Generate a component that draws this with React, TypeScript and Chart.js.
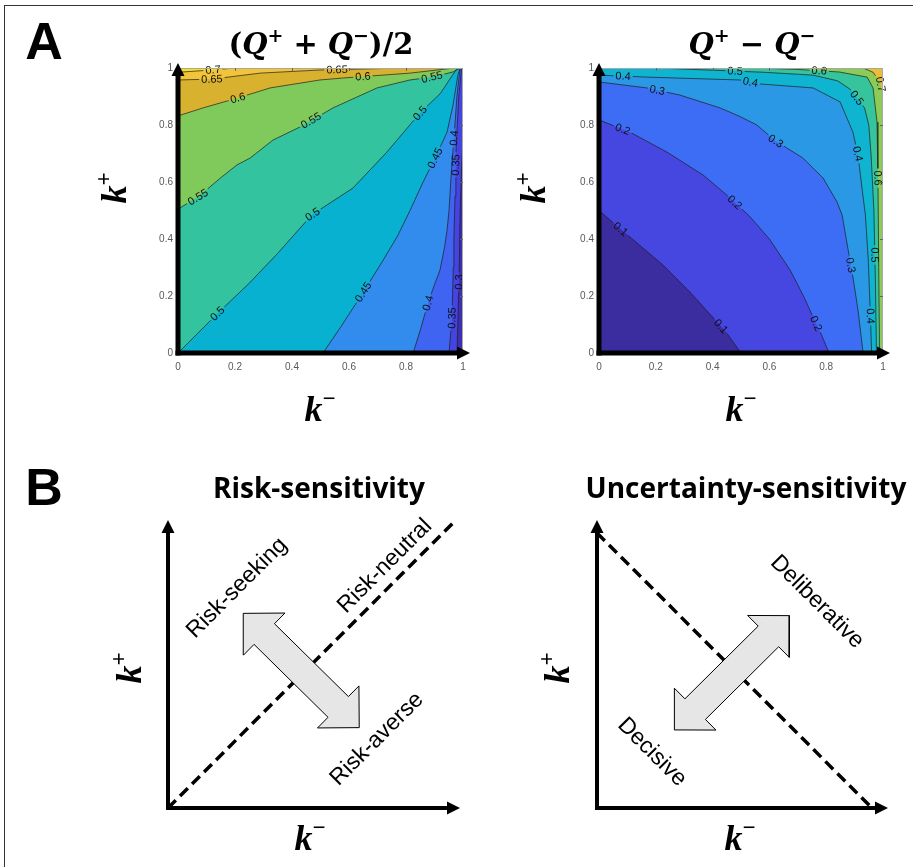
import React, { useEffect, useRef } from 'react';
import { Chart, registerables } from 'chart.js';

Chart.register(...registerables);
Chart.defaults.font.family = '"Liberation Sans", Arial, sans-serif';

type Pt = [number, number];
type Lab = [number, number, number];

// ---------------- data ----------------
const AXIS_TICKS = [0, 0.2, 0.4, 0.6, 0.8, 1];
const AXIS_TICK_LABELS = ['0', '0.2', '0.4', '0.6', '0.8', '1'];

// Panel A, left: (Q+ + Q-)/2   — contour lines as [k-, k+]
const MEAN_LEVELS = [0.3, 0.35, 0.4, 0.45, 0.5, 0.55, 0.6, 0.65, 0.7];
const MEAN_BAND_COLORS = ['#3d2fb0', '#4445e1', '#3f64f1', '#318cee', '#09b1d1', '#33c39f', '#80ca5c', '#d8b22f', '#f1c43a', '#f6e11f'];
const MEAN_C030: Pt[] = [[0.979, 0], [0.983, 0.15], [0.987, 0.3], [0.99, 0.5], [0.995, 0.65], [1, 0.75]];
const MEAN_C035: Pt[] = [[0.951, 0], [0.961, 0.12], [0.966, 0.3], [0.968, 0.4], [0.972, 0.55], [0.975, 0.7], [0.985, 0.9], [0.995, 1]];
const MEAN_C040: Pt[] = [[0.825, 0], [0.85, 0.08], [0.877, 0.175], [0.9, 0.24], [0.919, 0.29], [0.935, 0.37], [0.944, 0.43], [0.951, 0.5], [0.96, 0.65], [0.968, 0.75], [0.979, 0.905], [0.99, 1]];
const MEAN_C045: Pt[] = [[0.509, 0], [0.57, 0.09], [0.639, 0.196], [0.72, 0.326], [0.77, 0.41], [0.814, 0.5], [0.86, 0.6], [0.902, 0.684], [0.944, 0.775], [0.965, 0.87], [0.982, 0.975], [0.99, 1]];
const MEAN_C050: Pt[] = [[0, 0], [0.14, 0.14], [0.25, 0.245], [0.35, 0.35], [0.47, 0.485], [0.614, 0.579], [0.733, 0.705], [0.849, 0.842], [0.92, 0.91], [0.98, 1]];
const MEAN_C055: Pt[] = [[0, 0.505], [0.07, 0.547], [0.15, 0.615], [0.207, 0.66], [0.253, 0.684], [0.333, 0.747], [0.428, 0.793], [0.544, 0.86], [0.698, 0.93], [0.814, 0.958], [0.89, 0.968], [0.965, 0.986], [0.99, 1]];
const MEAN_C060: Pt[] = [[0, 0.832], [0.088, 0.86], [0.21, 0.895], [0.323, 0.93], [0.498, 0.958], [0.58, 0.965], [0.814, 0.982], [0.97, 1]];
const MEAN_C065: Pt[] = [[0, 0.958], [0.119, 0.961], [0.288, 0.982], [0.498, 0.993], [0.8, 1]];
const MEAN_C070: Pt[] = [[0, 0.985], [0.12, 0.993], [0.2, 1]];
const MEAN_CONTOURS = [MEAN_C030, MEAN_C035, MEAN_C040, MEAN_C045, MEAN_C050, MEAN_C055, MEAN_C060, MEAN_C065, MEAN_C070];
const MEAN_LABELS: Lab[] = [
  [0.7, 0.123, 0.993], [0.65, 0.119, 0.961], [0.65, 0.558, 0.993], [0.6, 0.21, 0.895], [0.6, 0.649, 0.97],
  [0.55, 0.07, 0.547], [0.55, 0.47, 0.81], [0.55, 0.891, 0.968], [0.5, 0.137, 0.14], [0.5, 0.474, 0.484],
  [0.5, 0.849, 0.842], [0.45, 0.656, 0.21], [0.45, 0.902, 0.684], [0.4, 0.877, 0.175], [0.4, 0.968, 0.754],
  [0.35, 0.961, 0.123], [0.35, 0.975, 0.66], [0.3, 0.989, 0.249],
];

// Panel A, right: Q+ - Q-
const DIFF_LEVELS = [0.1, 0.2, 0.3, 0.4, 0.5, 0.6, 0.7];
const DIFF_BAND_COLORS = ['#3b2c9f', '#4646e0', '#3d6df4', '#2b98e6', '#0fb4d0', '#35c49b', '#8ccb57', '#ebbd36'];
const DIFF_C010: Pt[] = [[0, 0.5], [0.109, 0.407], [0.225, 0.309], [0.32, 0.214], [0.4, 0.126], [0.45, 0.07], [0.5, 0]];
const DIFF_C020: Pt[] = [[0, 0.818], [0.109, 0.775], [0.239, 0.705], [0.366, 0.625], [0.45, 0.554], [0.53, 0.48], [0.6, 0.4], [0.673, 0.291], [0.72, 0.2], [0.754, 0.126], [0.785, 0.06], [0.81, 0]];
const DIFF_C030: Pt[] = [[0, 0.951], [0.169, 0.93], [0.285, 0.905], [0.426, 0.86], [0.496, 0.83], [0.556, 0.8], [0.62, 0.745], [0.718, 0.684], [0.789, 0.614], [0.838, 0.53], [0.856, 0.484], [0.873, 0.386], [0.894, 0.267], [0.912, 0.151], [0.93, 0]];
const DIFF_C040: Pt[] = [[0, 0.975], [0.169, 0.968], [0.496, 0.958], [0.567, 0.944], [0.754, 0.93], [0.849, 0.881], [0.894, 0.775], [0.912, 0.695], [0.926, 0.579], [0.938, 0.484], [0.948, 0.33], [0.955, 0.15], [0.96, 0]];
const DIFF_C050: Pt[] = [[0.2, 1], [0.46, 0.99], [0.58, 0.985], [0.754, 0.975], [0.84, 0.955], [0.885, 0.925], [0.908, 0.895], [0.935, 0.86], [0.95, 0.8], [0.958, 0.695], [0.968, 0.5], [0.973, 0.267], [0.977, 0]];
const DIFF_C060: Pt[] = [[0.55, 1], [0.7, 0.995], [0.846, 0.986], [0.944, 0.968], [0.965, 0.93], [0.979, 0.81], [0.982, 0.635], [0.985, 0.3], [0.988, 0]];
const DIFF_C070: Pt[] = [[0.93, 1], [0.965, 0.985], [0.99, 0.95], [1, 0.9]];
const DIFF_CONTOURS = [DIFF_C010, DIFF_C020, DIFF_C030, DIFF_C040, DIFF_C050, DIFF_C060, DIFF_C070];
const DIFF_LABELS: Lab[] = [
  [0.4, 0.085, 0.972], [0.3, 0.204, 0.916], [0.2, 0.081, 0.779], [0.2, 0.47, 0.52], [0.5, 0.479, 0.986],
  [0.4, 0.532, 0.944], [0.6, 0.775, 0.986], [0.5, 0.908, 0.895], [0.7, 0.979, 0.94], [0.3, 0.62, 0.74],
  [0.4, 0.894, 0.695], [0.6, 0.989, 0.614], [0.1, 0.074, 0.432], [0.1, 0.423, 0.088], [0.5, 0.975, 0.344],
  [0.3, 0.891, 0.309], [0.4, 0.965, 0.13], [0.2, 0.768, 0.105],
];

// Panel B schematics (unit square k-, k+)
const RISK_NEUTRAL_LINE: Pt[] = [[0, 0], [1, 1]];
const RISK_ARROW_TIPS: Pt[] = [[0.264, 0.683], [0.671, 0.282]];
const RISK_TEXTS = ['Risk-seeking', 'Risk-neutral', 'Risk-averse'];
const RISK_TEXT_AT: Pt[] = [[0.242, 0.772], [0.761, 0.849], [0.733, 0.242]];
const UNC_LINE: Pt[] = [[0, 0.965], [0.965, 0]];
const UNC_ARROW_TIPS: Pt[] = [[0.271, 0.274], [0.675, 0.675]];
const UNC_TEXTS = ['Deliberative', 'Decisive'];
const UNC_TEXT_AT: Pt[] = [[0.772, 0.723], [0.193, 0.196]];

// ---------------- helpers ----------------
const DOMAIN: Pt[] = [[0, 0], [1, 0], [1, 1], [0, 1]];
const CORNERS: Pt[] = [[1, 1], [0, 1], [0, 0], [1, 0]];
const toXY = (pts: Pt[]) => pts.map(([x, y]) => ({ x, y }));

function perim([x, y]: Pt) {
  const e = 1e-9;
  if (Math.abs(y - 1) < e) return 1 - x;
  if (Math.abs(x) < e) return 2 - y;
  if (Math.abs(y) < e) return 2 + x;
  return 3 + y;
}
// close a contour (high side on its left) counter-clockwise along the square boundary
function closePolygon(pts: Pt[]): Pt[] {
  const sEnd = perim(pts[pts.length - 1]);
  let sStart = perim(pts[0]);
  if (sStart <= sEnd) sStart += 4;
  const out = pts.slice();
  for (let c = Math.floor(sEnd) + 1; c < sStart; c++) out.push(CORNERS[c % 4]);
  return out;
}

function arrowPolygon([p1, p2]: Pt[]): Pt[] {
  const HL = 0.1035, HW = 0.1035, SW = 0.051;
  const dx = p2[0] - p1[0], dy = p2[1] - p1[1];
  const L = Math.hypot(dx, dy);
  const u = [dx / L, dy / L], n = [-u[1], u[0]];
  const at = (p: Pt, a: number, b: number): Pt => [p[0] + u[0] * a + n[0] * b, p[1] + u[1] * a + n[1] * b];
  return [
    p1, at(p1, HL, HW), at(p1, HL, SW), at(p2, -HL, SW), at(p2, -HL, HW), p2,
    at(p2, -HL, -HW), at(p2, -HL, -SW), at(p1, HL, -SW), at(p1, HL, -HW), p1,
  ];
}

type Part = { t: string; font: string; dy?: number };
type RichItem = { x: number; y: number; rot?: number; parts: Part[] };

const M_IT = 'italic bold 36px "Liberation Serif"';
const M_SUP = 'bold 23px "Liberation Serif"';
const kPlus: Part[] = [{ t: 'k', font: M_IT }, { t: '+', font: M_SUP, dy: -15 }];
const kMinus: Part[] = [{ t: 'k', font: M_IT }, { t: '\u2212', font: M_SUP, dy: -15 }];
const T_UP = 'bold 29px "DejaVu Serif"';
const T_IT = 'italic bold 29px "DejaVu Serif"';
const T_SUP = 'bold 19px "DejaVu Serif"';
const titleMean: Part[] = [
  { t: '(', font: T_UP }, { t: 'Q', font: T_IT }, { t: '+', font: T_SUP, dy: -12 }, { t: ' + ', font: T_UP },
  { t: 'Q', font: T_IT }, { t: '\u2212', font: T_SUP, dy: -12 }, { t: ')/2', font: T_UP },
];
const titleDiff: Part[] = [
  { t: 'Q', font: T_IT }, { t: '+', font: T_SUP, dy: -12 }, { t: ' \u2212 ', font: T_UP },
  { t: 'Q', font: T_IT }, { t: '\u2212', font: T_SUP, dy: -12 },
];
const PANEL_FONT = 'bold 52px "Liberation Sans"';
const HEAD_FONT = 'bold 28px "Open Sans"';

function makeTextPlugin(items: RichItem[]) {
  return {
    id: 'richText',
    afterDraw(chart: any) {
      const ctx = chart.ctx as CanvasRenderingContext2D;
      for (const it of items) {
        ctx.save();
        ctx.translate(it.x, it.y);
        if (it.rot) ctx.rotate((it.rot * Math.PI) / 180);
        ctx.fillStyle = '#000';
        ctx.textBaseline = 'alphabetic';
        ctx.textAlign = 'left';
        let total = 0;
        for (const p of it.parts) { ctx.font = p.font; total += ctx.measureText(p.t).width; }
        let cx = -total / 2;
        for (const p of it.parts) { ctx.font = p.font; ctx.fillText(p.t, cx, p.dy || 0); cx += ctx.measureText(p.t).width; }
        ctx.restore();
      }
    },
  };
}

function makeAxesPlugin(o: { lw: number; head: number; half: number; tipX: number; tipY: number; box?: boolean }) {
  return {
    id: 'arrowAxes',
    afterDraw(chart: any) {
      const { left, right, top, bottom } = chart.chartArea;
      const ctx = chart.ctx as CanvasRenderingContext2D;
      ctx.save();
      if (o.box) {
        ctx.strokeStyle = '#a8a8a8';
        ctx.lineWidth = 1;
        ctx.beginPath();
        ctx.moveTo(left, top + 0.5); ctx.lineTo(right - 0.5, top + 0.5); ctx.lineTo(right - 0.5, bottom);
        ctx.stroke();
        ctx.strokeStyle = '#666';
        const xs = chart.scales.x, ys = chart.scales.y;
        for (const v of AXIS_TICKS.slice(1, -1)) {
          const px = Math.round(xs.getPixelForValue(v)) + 0.5;
          ctx.beginPath(); ctx.moveTo(px, top); ctx.lineTo(px, top + 3); ctx.stroke();
          const py = Math.round(ys.getPixelForValue(v)) + 0.5;
          ctx.beginPath(); ctx.moveTo(right, py); ctx.lineTo(right - 3, py); ctx.stroke();
        }
      }
      ctx.strokeStyle = '#000';
      ctx.fillStyle = '#000';
      ctx.lineWidth = o.lw;
      const yTip = top - o.tipY;
      ctx.beginPath(); ctx.moveTo(left, bottom + o.lw / 2); ctx.lineTo(left, yTip + o.head - 1); ctx.stroke();
      ctx.beginPath(); ctx.moveTo(left, yTip); ctx.lineTo(left - o.half, yTip + o.head); ctx.lineTo(left + o.half, yTip + o.head); ctx.closePath(); ctx.fill();
      const xTip = right + o.tipX;
      ctx.beginPath(); ctx.moveTo(left - o.lw / 2, bottom); ctx.lineTo(xTip - o.head + 1, bottom); ctx.stroke();
      ctx.beginPath(); ctx.moveTo(xTip, bottom); ctx.lineTo(xTip - o.head, bottom - o.half); ctx.lineTo(xTip - o.head, bottom + o.half); ctx.closePath(); ctx.fill();
      ctx.restore();
    },
  };
}

const LABEL_FONT = '11px "Liberation Sans"';
function addRotRect(ctx: CanvasRenderingContext2D, cx: number, cy: number, a: number, w: number, h: number) {
  const c = Math.cos(a), s = Math.sin(a);
  const pts = [[-w / 2, -h / 2], [-w / 2, h / 2], [w / 2, h / 2], [w / 2, -h / 2]];
  pts.forEach(([u, v], i) => {
    const X = cx + u * c - v * s, Y = cy + u * s + v * c;
    if (i) ctx.lineTo(X, Y); else ctx.moveTo(X, Y);
  });
  ctx.closePath();
}

function makeContourLabelPlugin(levels: number[], contours: Pt[][], labels: Lab[]) {
  let cache: any[] | null = null;
  const geom = (chart: any) => {
    const xs = chart.scales.x, ys = chart.scales.y;
    const ctx = chart.ctx as CanvasRenderingContext2D;
    ctx.save();
    ctx.font = LABEL_FONT;
    const out = labels.map(([lv, lx, ly]) => {
      const i = levels.indexOf(lv);
      const pts = contours[i].map(([x, y]) => [xs.getPixelForValue(x), ys.getPixelForValue(y)]);
      const px = xs.getPixelForValue(lx), py = ys.getPixelForValue(ly);
      let best = { d: Infinity, x: px, y: py, a: 0 };
      for (let k = 0; k < pts.length - 1; k++) {
        const [x1, y1] = pts[k], [x2, y2] = pts[k + 1];
        const dx = x2 - x1, dy = y2 - y1;
        const L2 = dx * dx + dy * dy || 1;
        let t = ((px - x1) * dx + (py - y1) * dy) / L2;
        t = Math.max(0, Math.min(1, t));
        const qx = x1 + t * dx, qy = y1 + t * dy;
        const d = (qx - px) ** 2 + (qy - py) ** 2;
        if (d < best.d) best = { d, x: qx, y: qy, a: Math.atan2(dy, dx) };
      }
      let a = best.a;
      if (a > Math.PI / 2) a -= Math.PI;
      if (a < -Math.PI / 2) a += Math.PI;
      const text = String(lv);
      return { level: lv, text, x: best.x, y: best.y, a, w: ctx.measureText(text).width };
    });
    ctx.restore();
    return out;
  };
  return {
    id: 'contourLabels',
    afterLayout() { cache = null; },
    beforeDatasetDraw(chart: any, args: any) {
      const ds = chart.data.datasets[args.index];
      if (ds.contourLevel === undefined) return;
      if (!cache) cache = geom(chart);
      const ctx = chart.ctx as CanvasRenderingContext2D;
      ctx.save();
      ctx.beginPath();
      ctx.rect(0, 0, chart.width, chart.height);
      for (const g of cache) if (g.level === ds.contourLevel) addRotRect(ctx, g.x, g.y, g.a, g.w + 4, 10);
      ctx.clip('evenodd');
    },
    afterDatasetDraw(chart: any, args: any) {
      const ds = chart.data.datasets[args.index];
      if (ds.contourLevel === undefined) return;
      chart.ctx.restore();
    },
    afterDatasetsDraw(chart: any) {
      if (!cache) cache = geom(chart);
      const ctx = chart.ctx as CanvasRenderingContext2D;
      ctx.save();
      ctx.font = LABEL_FONT;
      ctx.fillStyle = '#111';
      ctx.textAlign = 'center';
      ctx.textBaseline = 'middle';
      for (const g of cache) {
        ctx.save();
        ctx.translate(g.x, g.y);
        ctx.rotate(g.a);
        ctx.fillText(g.text, 0, 0.5);
        ctx.restore();
      }
      ctx.restore();
    },
  };
}

function makeRotTextPlugin(texts: string[], at: Pt[], deg: number) {
  return {
    id: 'rotTexts',
    afterDatasetsDraw(chart: any) {
      const xs = chart.scales.x, ys = chart.scales.y;
      const ctx = chart.ctx as CanvasRenderingContext2D;
      ctx.save();
      ctx.font = '23px "Liberation Sans"';
      ctx.fillStyle = '#000';
      ctx.textAlign = 'center';
      ctx.textBaseline = 'middle';
      texts.forEach((t, i) => {
        ctx.save();
        ctx.translate(xs.getPixelForValue(at[i][0]), ys.getPixelForValue(at[i][1]));
        ctx.rotate((deg * Math.PI) / 180);
        ctx.fillText(t, 0, 0);
        ctx.restore();
      });
      ctx.restore();
    },
  };
}

const tickOpts = (padding: number) => ({
  font: { size: 10 },
  color: '#595959',
  padding,
  maxRotation: 0,
  autoSkip: false,
  callback: (_v: any, i: number) => AXIS_TICK_LABELS[i],
});

function contourConfig(p: {
  levels: number[]; colors: string[]; contours: Pt[][]; labels: Lab[];
  yWidth: number; padRight: number; texts: RichItem[];
}) {
  const datasets: any[] = [];
  datasets.push({ data: toXY(DOMAIN), fill: 'shape', backgroundColor: p.colors[0], borderWidth: 0, pointRadius: 0, order: 500 });
  p.contours.forEach((c, i) => {
    datasets.push({ data: toXY(closePolygon(c)), fill: 'shape', backgroundColor: p.colors[i + 1], borderWidth: 0, pointRadius: 0, order: 400 - i });
  });
  p.contours.forEach((c, i) => {
    datasets.push({ data: toXY(c), fill: false, borderColor: '#1e1e1e', borderWidth: 0.7, pointRadius: 0, order: 1, contourLevel: p.levels[i] });
  });
  return {
    type: 'line',
    data: { datasets },
    options: {
      animation: false,
      responsive: false,
      devicePixelRatio: 1,
      events: [],
      layout: { padding: { left: 0, top: 68, right: p.padRight, bottom: 57 } },
      plugins: { legend: { display: false }, tooltip: { enabled: false }, title: { display: false } },
      scales: {
        x: {
          type: 'linear', min: 0, max: 1,
          afterBuildTicks: (s: any) => { s.ticks = AXIS_TICKS.map((v) => ({ value: v })); },
          afterFit: (s: any) => { s.height = 30; },
          grid: { display: false, drawTicks: false },
          border: { display: false },
          ticks: tickOpts(8),
        },
        y: {
          type: 'linear', min: 0, max: 1,
          afterBuildTicks: (s: any) => { s.ticks = AXIS_TICKS.map((v) => ({ value: v })); },
          afterFit: (s: any) => { s.width = p.yWidth; },
          grid: { display: false, drawTicks: false },
          border: { display: false },
          ticks: tickOpts(5),
        },
      },
    },
    plugins: [
      makeContourLabelPlugin(p.levels, p.contours, p.labels),
      makeAxesPlugin({ lw: 5, head: 13, half: 6.5, tipX: 7, tipY: 5, box: true }),
      makeTextPlugin(p.texts),
    ],
  };
}

function schemeConfig(p: {
  line: Pt[]; tips: Pt[]; texts: string[]; at: Pt[]; deg: number;
  padLeft: number; padRight: number; items: RichItem[]; tipX: number;
}) {
  return {
    type: 'line',
    data: {
      datasets: [
        { data: toXY(p.line), borderColor: '#000', borderWidth: 3.5, borderDash: [11, 6], pointRadius: 0, fill: false, order: 2, clip: false },
        { data: toXY(arrowPolygon(p.tips)), backgroundColor: '#e6e6e6', borderColor: '#000', borderWidth: 1, fill: 'shape', pointRadius: 0, order: 1, clip: false },
      ],
    },
    options: {
      animation: false,
      responsive: false,
      devicePixelRatio: 1,
      events: [],
      layout: { padding: { left: p.padLeft, top: 83, right: p.padRight, bottom: 59 } },
      plugins: { legend: { display: false }, tooltip: { enabled: false }, title: { display: false } },
      scales: {
        x: { type: 'linear', min: 0, max: 1, display: false },
        y: { type: 'linear', min: 0, max: 1, display: false },
      },
    },
    plugins: [
      makeRotTextPlugin(p.texts, p.at, p.deg),
      makeAxesPlugin({ lw: 4, head: 13, half: 6.5, tipX: p.tipX, tipY: 3 }),
      makeTextPlugin(p.items),
    ],
  };
}

const makeMean = () => contourConfig({
  levels: MEAN_LEVELS, colors: MEAN_BAND_COLORS, contours: MEAN_CONTOURS, labels: MEAN_LABELS,
  yWidth: 178, padRight: 17,
  texts: [
    { x: 44, y: 59, parts: [{ t: 'A', font: PANEL_FONT }] },
    { x: 321, y: 54, parts: titleMean },
    { x: 320, y: 421, parts: kMinus },
    { x: 126, y: 188, rot: -90, parts: kPlus },
  ],
});
const makeDiff = () => contourConfig({
  levels: DIFF_LEVELS, colors: DIFF_BAND_COLORS, contours: DIFF_CONTOURS, labels: DIFF_LABELS,
  yWidth: 119, padRight: 30,
  texts: [
    { x: 272, y: 54, parts: titleDiff },
    { x: 261, y: 421, parts: kMinus },
    { x: 65, y: 188, rot: -90, parts: kPlus },
  ],
});
const makeRisk = () => schemeConfig({
  line: RISK_NEUTRAL_LINE, tips: RISK_ARROW_TIPS, texts: RISK_TEXTS, at: RISK_TEXT_AT, deg: -45,
  padLeft: 168, padRight: 27, tipX: 7,
  items: [
    { x: 44, y: 65, parts: [{ t: 'B', font: PANEL_FONT }] },
    { x: 319, y: 58, parts: [{ t: 'Risk-sensitivity', font: HEAD_FONT }] },
    { x: 141, y: 228, rot: -90, parts: kPlus },
    { x: 310, y: 410, parts: kMinus },
  ],
});
const makeUnc = () => schemeConfig({
  line: UNC_LINE, tips: UNC_ARROW_TIPS, texts: UNC_TEXTS, at: UNC_TEXT_AT, deg: 45,
  padLeft: 117, padRight: 31, tipX: 6,
  items: [
    { x: 266, y: 58, parts: [{ t: 'Uncertainty-sensitivity', font: HEAD_FONT }] },
    { x: 89, y: 228, rot: -90, parts: kPlus },
    { x: 260, y: 410, parts: kMinus },
  ],
});

function ChartCanvas({ left, top, width, height, make }: { left: number; top: number; width: number; height: number; make: () => any }) {
  const ref = useRef<HTMLCanvasElement>(null);
  useEffect(() => {
    if (!ref.current) return;
    const chart = new Chart(ref.current, make());
    return () => chart.destroy();
  }, [make]);
  return (
    <canvas ref={ref} width={width} height={height}
      style={{ position: 'absolute', left, top, width, height, display: 'block' }} />
  );
}

export default function App() {
  return (
    <div style={{ position: 'fixed', left: 0, top: 0, width: 913, height: 867, overflow: 'hidden', background: '#fff' }}>
      <div style={{ position: 'absolute', left: 4, top: 5, width: 2000, height: 2000, borderLeft: '1px solid #333', borderTop: '1px solid #333' }} />
      <ChartCanvas left={0} top={0} width={480} height={440} make={makeMean} />
      <ChartCanvas left={480} top={0} width={433} height={440} make={makeDiff} />
      <ChartCanvas left={0} top={440} width={480} height={427} make={makeRisk} />
      <ChartCanvas left={480} top={440} width={433} height={427} make={makeUnc} />
    </div>
  );
}
